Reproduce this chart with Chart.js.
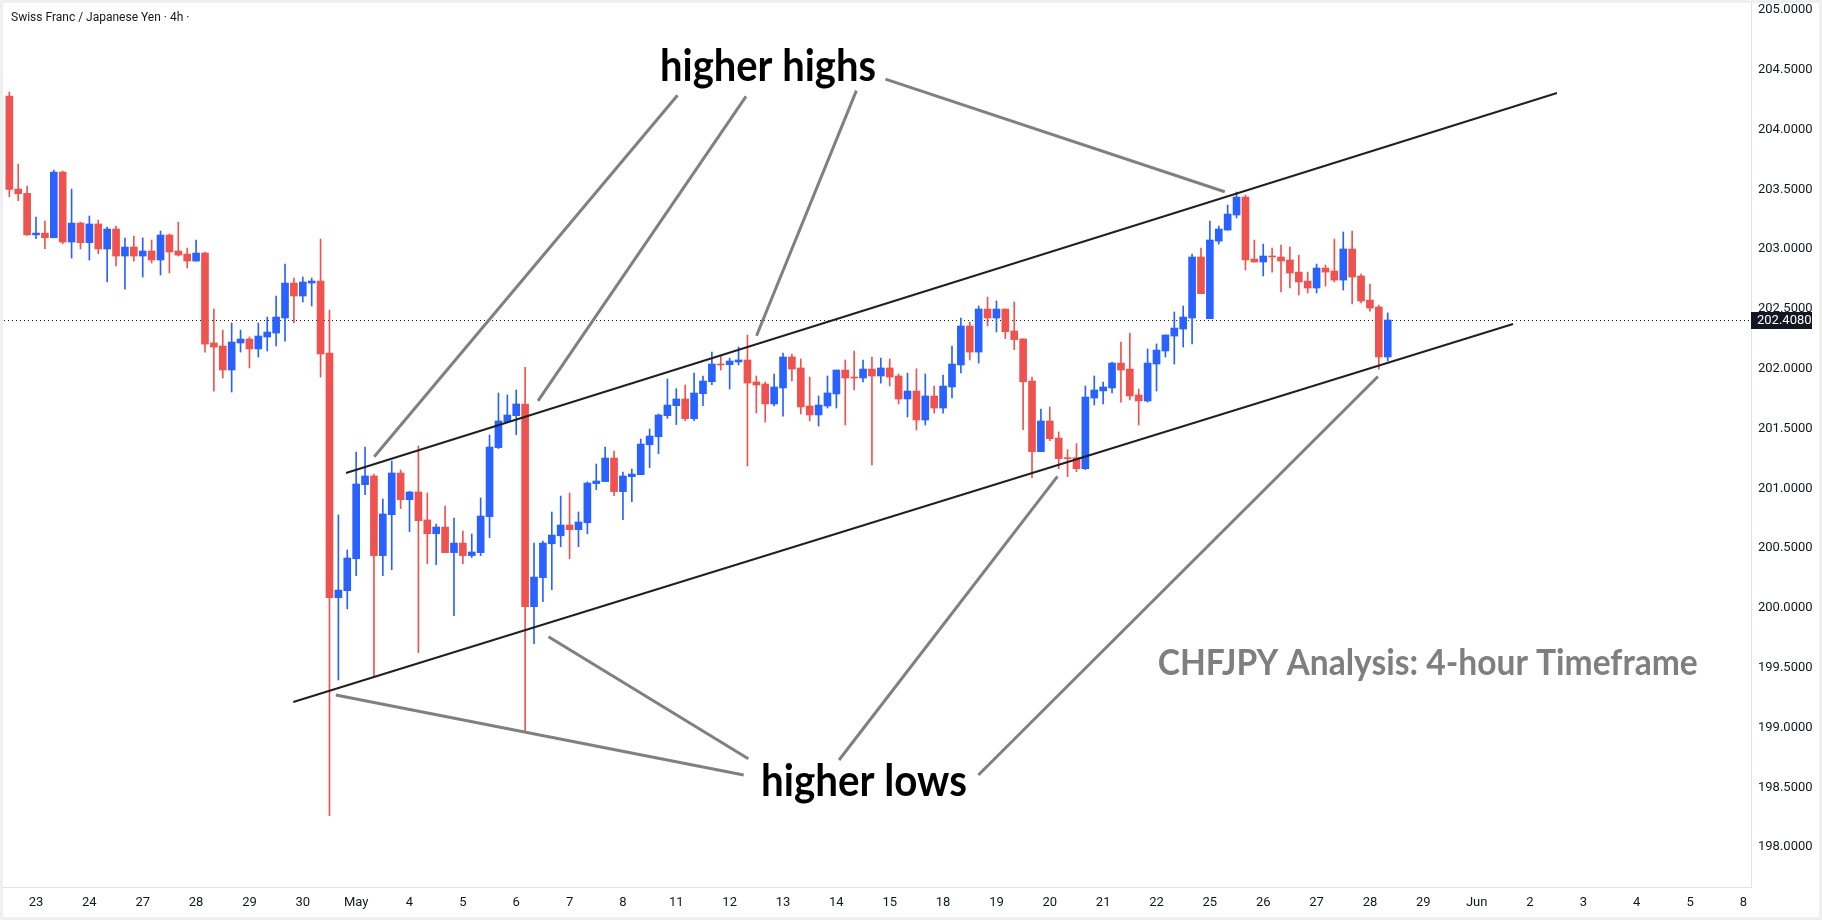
<!DOCTYPE html>
<html>
<head>
<meta charset="utf-8">
<script src="https://cdn.jsdelivr.net/npm/chart.js@4.4.1/dist/chart.umd.min.js"></script>
<style>
html, body { margin: 0; padding: 0; background: #fff; }
</style>
</head>
<body>
<canvas id="mycanvas" width="1822" height="920"></canvas>
<script>
// CHF/JPY 4h candles (index 0 = first bar on the left)
var opens = [
	204.281, 203.503, 203.467, 203.120, 203.135, 203.096, 203.645, 203.060, 203.219, 203.055,
	203.211, 203.002, 203.169, 202.943, 203.018, 202.943, 202.985, 202.910, 203.119, 202.985,
	202.960, 202.901, 202.968, 202.216, 202.191, 201.990, 202.216, 202.249, 202.166, 202.266,
	202.299, 202.425, 202.717, 202.609, 202.717, 202.734, 202.132, 200.086, 200.145, 200.412,
	201.031, 201.104, 200.438, 200.780, 201.129, 200.906, 200.970, 200.736, 200.621, 200.677,
	200.463, 200.543, 200.438, 200.463, 200.764, 201.341, 201.558, 201.608, 201.706, 200.011,
	200.254, 200.537, 200.604, 200.694, 200.655, 200.713, 201.040, 201.057, 201.254, 200.973,
	201.098, 201.115, 201.365, 201.432, 201.608, 201.692, 201.748, 201.583, 201.792, 201.892,
	202.040, 202.035, 202.057, 202.074, 201.890, 201.873, 201.706, 201.840, 202.099, 202.007,
	201.689, 201.614, 201.689, 201.790, 201.990, 201.929, 201.923, 201.998, 201.940, 202.007,
	201.940, 201.748, 201.814, 201.572, 201.773, 201.672, 201.848, 202.032, 202.358, 202.140,
	202.500, 202.425, 202.500, 202.316, 202.250, 201.898, 201.307, 201.564, 201.421, 201.257,
	201.257, 201.165, 201.756, 201.815, 201.840, 202.048, 201.998, 201.781, 201.731, 202.040,
	202.149, 202.274, 202.333, 202.425, 202.935, 202.419, 203.068, 203.160, 203.286, 203.436,
	202.918, 202.893, 202.943, 202.935, 202.910, 202.809, 202.734, 202.676, 202.843, 202.818,
	202.742, 203.002, 202.776, 202.575, 202.517, 202.099
];
var highs = [
	204.314, 203.712, 203.528, 203.269, 203.236, 203.662, 203.654, 203.503, 203.227, 203.278,
	203.244, 203.186, 203.194, 203.094, 203.110, 203.094, 203.077, 203.152, 203.127, 203.227,
	203.010, 203.077, 202.977, 202.500, 202.324, 202.383, 202.324, 202.266, 202.383, 202.433,
	202.609, 202.876, 202.759, 202.768, 202.759, 203.085, 202.492, 200.778, 200.485, 201.304,
	201.346, 201.120, 200.911, 201.229, 201.154, 200.975, 201.354, 200.961, 200.702, 200.853,
	200.752, 200.644, 200.619, 200.920, 201.446, 201.798, 201.781, 201.823, 202.012, 200.543,
	200.560, 200.803, 200.936, 200.961, 200.803, 201.054, 201.204, 201.346, 201.313, 201.137,
	201.162, 201.413, 201.497, 201.622, 201.915, 201.834, 201.865, 201.965, 201.940, 202.140,
	202.107, 202.090, 202.182, 202.283, 201.940, 201.890, 201.957, 202.132, 202.124, 202.082,
	201.931, 201.773, 201.940, 201.990, 202.074, 202.149, 202.074, 202.099, 202.090, 202.082,
	201.957, 201.965, 202.000, 201.957, 201.856, 201.948, 202.191, 202.425, 202.391, 202.525,
	202.600, 202.567, 202.500, 202.559, 202.250, 201.931, 201.664, 201.681, 201.472, 201.324,
	201.374, 201.856, 201.940, 201.890, 202.057, 202.224, 202.299, 201.831, 202.166, 202.208,
	202.283, 202.475, 202.525, 202.960, 203.010, 203.236, 203.194, 203.370, 203.478, 203.453,
	203.077, 203.043, 203.010, 203.035, 203.018, 202.951, 202.809, 202.876, 202.868, 203.085,
	203.144, 203.152, 202.793, 202.709, 202.533, 202.467
];
var lows = [
	203.439, 203.406, 203.115, 203.088, 203.004, 203.096, 203.046, 202.926, 203.002, 202.910,
	202.963, 202.726, 202.860, 202.667, 202.901, 202.768, 202.885, 202.784, 202.801, 202.943,
	202.843, 202.901, 202.140, 201.814, 201.923, 201.806, 202.140, 202.007, 202.099, 202.149,
	202.191, 202.232, 202.383, 202.559, 202.525, 201.931, 198.264, 199.398, 199.992, 200.270,
	200.948, 199.418, 200.270, 200.320, 200.831, 200.638, 199.627, 200.371, 200.362, 200.463,
	199.936, 200.371, 200.422, 200.438, 200.588, 201.333, 201.553, 201.449, 198.966, 199.702,
	200.053, 200.153, 200.513, 200.412, 200.513, 200.621, 200.989, 201.057, 200.939, 200.739,
	200.889, 201.115, 201.173, 201.290, 201.586, 201.534, 201.567, 201.567, 201.692, 201.867,
	201.990, 201.831, 202.032, 201.187, 201.630, 201.555, 201.689, 201.605, 201.898, 201.622,
	201.564, 201.522, 201.672, 201.672, 201.530, 201.823, 201.890, 201.196, 201.881, 201.856,
	201.706, 201.597, 201.488, 201.530, 201.630, 201.630, 201.756, 201.965, 202.074, 202.048,
	202.358, 202.308, 202.252, 202.160, 201.491, 201.090, 201.307, 201.399, 201.165, 201.098,
	201.140, 201.157, 201.697, 201.706, 201.798, 201.722, 201.739, 201.530, 201.722, 201.814,
	202.099, 202.040, 202.182, 202.208, 202.628, 202.419, 203.043, 203.160, 203.261, 202.826,
	202.893, 202.776, 202.809, 202.642, 202.676, 202.617, 202.634, 202.634, 202.692, 202.726,
	202.659, 202.542, 202.550, 202.483, 201.998, 202.065
];
var closes = [
	203.501, 203.464, 203.120, 203.135, 203.096, 203.645, 203.060, 203.219, 203.055, 203.211,
	203.002, 203.169, 202.943, 203.018, 202.943, 202.985, 202.910, 203.119, 202.977, 202.951,
	202.901, 202.968, 202.207, 202.182, 201.990, 202.224, 202.249, 202.166, 202.274, 202.308,
	202.433, 202.717, 202.609, 202.726, 202.734, 202.124, 200.086, 200.150, 200.418, 201.037,
	201.104, 200.438, 200.786, 201.129, 200.906, 200.970, 200.730, 200.621, 200.677, 200.463,
	200.543, 200.438, 200.468, 200.769, 201.346, 201.564, 201.614, 201.706, 200.011, 200.259,
	200.543, 200.610, 200.694, 200.655, 200.719, 201.045, 201.062, 201.254, 200.973, 201.104,
	201.120, 201.371, 201.438, 201.614, 201.697, 201.748, 201.583, 201.798, 201.898, 202.040,
	202.032, 202.065, 202.074, 201.881, 201.865, 201.706, 201.848, 202.099, 201.998, 201.681,
	201.614, 201.697, 201.798, 201.990, 201.923, 201.923, 201.998, 201.940, 202.007, 201.931,
	201.748, 201.814, 201.572, 201.773, 201.672, 201.856, 202.040, 202.358, 202.140, 202.500,
	202.425, 202.500, 202.310, 202.244, 201.892, 201.307, 201.564, 201.416, 201.249, 201.249,
	201.165, 201.764, 201.823, 201.848, 202.048, 201.990, 201.773, 201.731, 202.048, 202.157,
	202.283, 202.341, 202.433, 202.935, 202.628, 203.077, 203.169, 203.294, 203.436, 202.910,
	202.893, 202.943, 202.935, 202.901, 202.801, 202.726, 202.676, 202.843, 202.809, 202.742,
	203.002, 202.768, 202.567, 202.508, 202.099, 202.408
];

// day labels on the time axis, one every 6 bars starting at bar 3
var dayLabels = ['23','24','27','28','29','30','May','4','5','6','7','8','11','12','13','14','15',
	'18','19','20','21','22','25','26','27','28','29','Jun','2','3','4','5','8'];
var firstDayBar = 3;
var barsPerDay = 6;

var priceTicks = [198, 198.5, 199, 199.5, 200, 200.5, 201, 201.5, 202, 202.5, 203, 203.5, 204, 204.5, 205];
var lastPrice = 202.408;

// drawn trendlines, as [bar index, price] pairs
var channelUpper = [[37.86, 201.129], [174.03, 204.306]];
var channelLower = [[31.93, 199.214], [169.09, 202.375]];
var pointerLines = [
	[[75.14, 204.287], [41.03, 201.265]],
	[[82.84, 204.278], [59.45, 201.732]],
	[[95.25, 204.326], [84.02, 202.276]],
	[[98.52, 204.423], [136.67, 203.481]],
	[[82.58, 198.604], [36.71, 199.273]],
	[[83.10, 198.739], [60.63, 199.759]],
	[[93.30, 198.729], [117.86, 201.100]],
	[[108.97, 198.604], [153.90, 201.936]]
];
var notes = [
	{ text: 'higher highs', x: 85.31, y: 204.523, size: 43, color: '#000000', width: 216 },
	{ text: 'higher lows', x: 96.10, y: 198.545, size: 43, color: '#000000', width: 206 },
	{ text: 'CHFJPY Analysis: 4-hour Timeframe', x: 159.5, y: 199.54, size: 36, color: '#7f7f7f', width: 540 }
];

var UP = '#2962FF';
var DOWN = '#EF5350';

var candleColors = opens.map(function(o, i) { return closes[i] >= o ? UP : DOWN; });
var bodyData = opens.map(function(o, i) { return { x: i, y: [o, closes[i]] }; });
var wickData = opens.map(function(o, i) { return { x: i, y: [lows[i], highs[i]] }; });

function fitText(ctx, t, cx, cy, font, color, width) {
	ctx.save();
	ctx.font = font;
	var w = ctx.measureText(t).width;
	var s = w > width ? width / w : 1;
	ctx.translate(cx, cy);
	ctx.scale(s, 1);
	ctx.fillStyle = color;
	ctx.textAlign = 'center';
	ctx.textBaseline = 'middle';
	ctx.fillText(t, 0, 0);
	ctx.restore();
}

var overlay = {
	id: 'overlay',
	beforeDraw: function(chart) {
		var ctx = chart.ctx;
		ctx.save();
		ctx.fillStyle = '#ffffff';
		ctx.fillRect(0, 0, chart.width, chart.height);
		ctx.restore();
	},
	beforeDatasetsDraw: function(chart) {
		var ctx = chart.ctx, a = chart.chartArea, y = chart.scales.y.getPixelForValue(lastPrice);
		ctx.save();
		ctx.strokeStyle = '#131722';
		ctx.lineWidth = 1;
		ctx.setLineDash([1, 3]);
		ctx.beginPath();
		ctx.moveTo(a.left, Math.round(y) + 0.5);
		ctx.lineTo(a.right, Math.round(y) + 0.5);
		ctx.stroke();
		ctx.restore();
	},
	afterDatasetsDraw: function(chart) {
		var ctx = chart.ctx, xs = chart.scales.x, ys = chart.scales.y;
		function seg(p, color, w) {
			ctx.strokeStyle = color;
			ctx.lineWidth = w;
			ctx.beginPath();
			ctx.moveTo(xs.getPixelForValue(p[0][0]), ys.getPixelForValue(p[0][1]));
			ctx.lineTo(xs.getPixelForValue(p[1][0]), ys.getPixelForValue(p[1][1]));
			ctx.stroke();
		}
		ctx.save();
		pointerLines.forEach(function(p) { seg(p, '#808080', 3); });
		seg(channelUpper, '#202020', 2);
		seg(channelLower, '#202020', 2);

		notes.forEach(function(n) {
			fitText(ctx, n.text, xs.getPixelForValue(n.x), ys.getPixelForValue(n.y),
				'bold ' + n.size + 'px Lato', n.color, n.width);
		});

		// last price tag on the price axis
		var py = ys.getPixelForValue(lastPrice);
		ctx.fillStyle = '#131722';
		ctx.fillRect(chart.chartArea.right, Math.round(py) - 8, 61, 17);
		ctx.fillStyle = '#ffffff';
		ctx.font = '13px Roboto';
		ctx.textAlign = 'left';
		ctx.textBaseline = 'middle';
		ctx.fillText(lastPrice.toFixed(4), chart.chartArea.right + 6, Math.round(py) + 1);

		// title
		ctx.fillStyle = '#131722';
		ctx.font = '12px Roboto';
		ctx.fillText('Swiss Franc / Japanese Yen \u00b7 4h \u00b7', 11, 18);

		// outer frame
		ctx.strokeStyle = '#efefef';
		ctx.lineWidth = 3;
		ctx.strokeRect(1.5, 1.5, chart.width - 3, chart.height - 3);
		ctx.restore();
	}
};

var ctx = document.getElementById('mycanvas');

var candleChart = new Chart(ctx, {
	type: 'bar',
	data: {
		datasets: [
			{
				label: 'body',
				data: bodyData,
				backgroundColor: candleColors,
				barThickness: 7,
				minBarLength: 1,
				grouped: false,
				borderWidth: 0,
				borderSkipped: false
			},
			{
				label: 'wick',
				data: wickData,
				backgroundColor: candleColors,
				barThickness: 1,
				grouped: false,
				borderWidth: 0,
				borderSkipped: false
			}
		]
	},
	options: {
		responsive: false,
		animation: false,
		layout: { padding: 0 },
		plugins: {
			legend: { display: false },
			tooltip: { enabled: false }
		},
		scales: {
			x: {
				type: 'linear',
				min: -1.05,
				max: 195.85,
				offset: false,
				grid: { display: false, drawTicks: false },
				border: { display: true, color: '#e0e3eb' },
				afterBuildTicks: function(axis) {
					axis.ticks = dayLabels.map(function(d, k) { return { value: firstDayBar + barsPerDay * k }; });
				},
				afterFit: function(axis) {
					axis.height = 33;
					axis.paddingLeft = 0;
					axis.paddingRight = 0;
				},
				ticks: {
					autoSkip: false,
					maxRotation: 0,
					padding: 8,
					color: '#131722',
					font: { family: 'Roboto', size: 13 },
					callback: function(v, k) { return dayLabels[k]; }
				}
			},
			y: {
				position: 'right',
				min: 197.667,
				max: 205.084,
				beginAtZero: false,
				grid: { display: false, drawTicks: false },
				border: { display: true, color: '#e0e3eb' },
				afterBuildTicks: function(axis) {
					axis.ticks = priceTicks.map(function(v) { return { value: v }; });
				},
				afterFit: function(axis) {
					axis.width = 71;
					axis.paddingTop = 0;
					axis.paddingBottom = 0;
				},
				ticks: {
					padding: 7,
					color: '#131722',
					font: { family: 'Roboto', size: 13 },
					callback: function(v) { return Number(v).toFixed(4); }
				}
			}
		}
	},
	plugins: [overlay]
});
</script>
</body>
</html>
